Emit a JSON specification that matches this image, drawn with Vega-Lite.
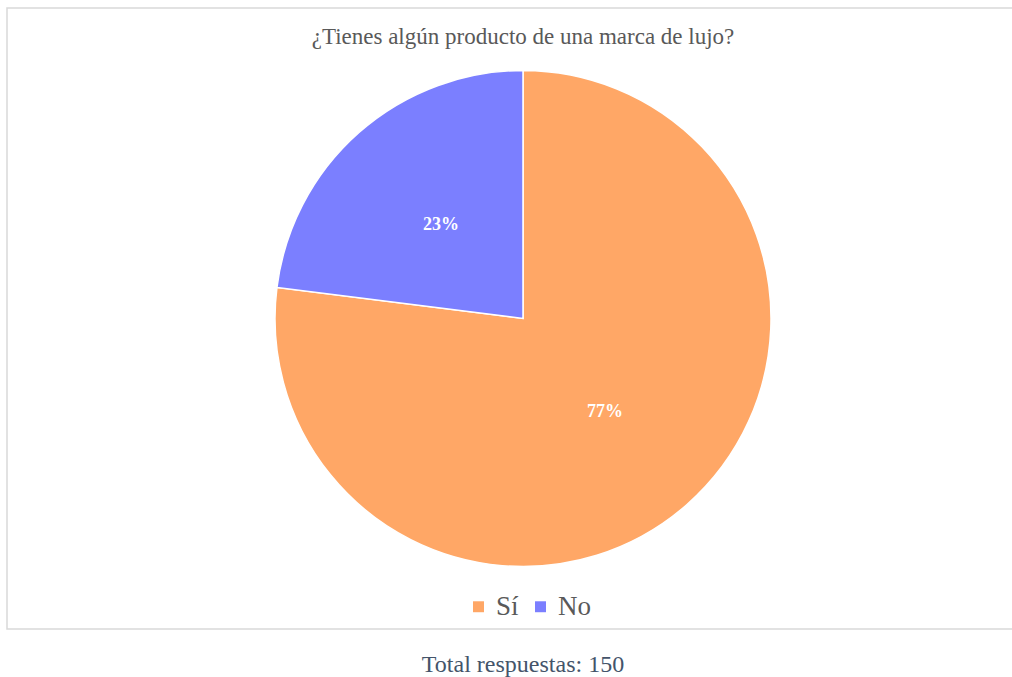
{
  "$schema": "https://vega.github.io/schema/vega-lite/v6.json",
  "autosize": {"type": "none"},
  "width": 1032,
  "height": 621,
  "padding": {"left": 7, "top": 8, "right": -27, "bottom": 48},
  "background": "white",
  "view": {"stroke": "#d9d9d9", "strokeWidth": 1.5},
  "title": {
    "text": "¿Tienes algún producto de una marca de lujo?",
    "subtitle": "Total respuestas: 150",
    "orient": "top",
    "anchor": "middle",
    "offset": -669,
    "font": "Liberation Serif",
    "fontSize": 23,
    "fontWeight": "normal",
    "color": "#595959",
    "subtitleFont": "Liberation Serif",
    "subtitleFontSize": 24,
    "subtitleColor": "#44546a",
    "subtitlePadding": 604
  },
  "data": {
    "values": [
      {"respuesta": "Sí", "porcentaje": 77, "etiqueta": "77%", "orden": 1},
      {"respuesta": "No", "porcentaje": 23, "etiqueta": "23%", "orden": 2}
    ]
  },
  "encoding": {
    "theta": {"field": "porcentaje", "type": "quantitative", "stack": true},
    "order": {"field": "orden", "type": "quantitative"},
    "color": {
      "field": "respuesta",
      "type": "nominal",
      "sort": ["Sí", "No"],
      "scale": {"domain": ["Sí", "No"], "range": ["#FFA766", "#7B7FFF"]},
      "legend": {
        "title": null,
        "orient": "none",
        "legendX": 458,
        "legendY": 585,
        "direction": "horizontal",
        "symbolType": "square",
        "symbolSize": 120,
        "symbolStrokeWidth": 0,
        "labelFont": "Liberation Serif",
        "labelFontSize": 27,
        "labelColor": "#595959",
        "columnPadding": 8,
        "labelOffset": 4
      }
    }
  },
  "layer": [
    {
      "mark": {"type": "arc", "outerRadius": 248, "stroke": "white", "strokeWidth": 1.5}
    },
    {
      "mark": {"type": "text", "radius": 124, "font": "Liberation Serif", "fontSize": 18, "fontWeight": "bold", "fill": "white"},
      "encoding": {
        "text": {"field": "etiqueta", "type": "nominal"},
        "color": {"value": "white"}
      }
    }
  ]
}
